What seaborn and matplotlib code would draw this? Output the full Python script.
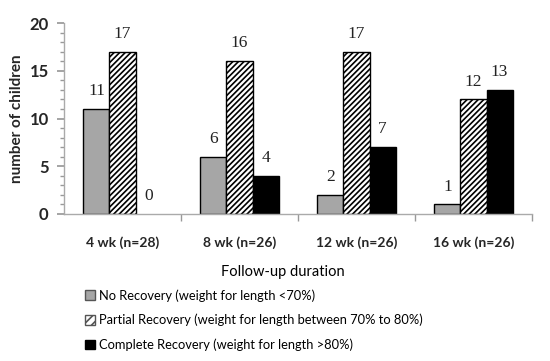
import matplotlib
matplotlib.use("Agg")
import matplotlib.pyplot as plt
import seaborn as sns
import pandas as pd
from matplotlib.ticker import MultipleLocator, FixedLocator
from matplotlib.patches import Patch

categories = ["4 wk (n=28)", "8 wk (n=26)", "12 wk (n=26)", "16 wk (n=26)"]
series_names = ["No Recovery (weight for length <70%)",
                "Partial Recovery (weight for length between 70% to 80%)",
                "Complete Recovery (weight for length >80%)"]
no_recovery = [11, 6, 2, 1]
partial_recovery = [17, 16, 17, 12]
complete_recovery = [0, 4, 7, 13]

rows = []
for name, vals in zip(series_names, [no_recovery, partial_recovery, complete_recovery]):
    for c, v in zip(categories, vals):
        rows.append({"duration": c, "series": name, "count": v})
df = pd.DataFrame(rows)

sns.set_theme(style="white")
plt.rcParams["font.family"] = ["Lato", "DejaVu Sans"]
plt.rcParams["hatch.linewidth"] = 1.2

fig = plt.figure(figsize=(5.5, 3.61), dpi=100)
ax = fig.add_axes([64/550, 1-214/361, (532-64)/550, (214-23)/361])

colors = ["#a6a6a6", "#ffffff", "#000000"]
sns.barplot(data=df, x="duration", y="count", hue="series", order=categories,
            hue_order=series_names, palette=colors, width=0.667,
            edgecolor="black", linewidth=1.0, saturation=1, ax=ax, legend=False)

for i, cont in enumerate(ax.containers):
    for p in cont:
        if i == 1:
            p.set_hatch("//////")
            p.set_facecolor("white")
        p.set_edgecolor("black")
        if p.get_height() == 0:
            p.set_linewidth(0)
    ax.bar_label(cont, labels=[str(int(v)) for v in cont.datavalues], padding=7,
                 fontsize=12.5, family="Liberation Serif", color="#222222")

ax.set_ylim(0, 20)
ax.set_xlim(-0.5, 3.5)
ax.yaxis.set_major_locator(MultipleLocator(5))
ax.yaxis.set_minor_locator(MultipleLocator(1))
ax.tick_params(axis="y", which="both", direction="out", left=True, color="#999999",
               labelsize=12, pad=6)
ax.tick_params(axis="y", which="major", length=5)
ax.tick_params(axis="y", which="minor", length=3)
for lab in ax.get_yticklabels():
    lab.set_fontweight("bold")

ax.xaxis.set_minor_locator(FixedLocator([0.5, 1.5, 2.5, 3.5]))
ax.tick_params(axis="x", which="major", bottom=False, length=0, labelsize=10, pad=16)
ax.tick_params(axis="x", which="minor", bottom=True, length=5, color="#999999")
for lab in ax.get_xticklabels():
    lab.set_fontweight("bold")

for s in ["top", "right"]:
    ax.spines[s].set_visible(False)
for s in ["left", "bottom"]:
    ax.spines[s].set_color("#aaaaaa")
    ax.spines[s].set_linewidth(1.0)

ax.set_ylabel("number of children", fontsize=11, fontweight="bold", labelpad=4)
ax.set_xlabel("")
fig.text(283/550, 1-272/361, "Follow-up duration", ha="center", va="center",
         fontsize=10.5, color="#000000")

handles = [Patch(facecolor=colors[0], edgecolor="#555555"),
           Patch(facecolor="white", edgecolor="#555555", hatch="////"),
           Patch(facecolor="black", edgecolor="black")]
leg = fig.legend(handles, series_names, loc="upper left", bbox_to_anchor=(85/550, 1-289/361),
                 frameon=False, fontsize=9.3, handlelength=0.75, handleheight=0.75,
                 handletextpad=0.35, labelspacing=0.95, borderaxespad=0, borderpad=0)
for t in leg.get_texts():
    t.set_color("#000000")

fig.savefig("out.png", dpi=100)
